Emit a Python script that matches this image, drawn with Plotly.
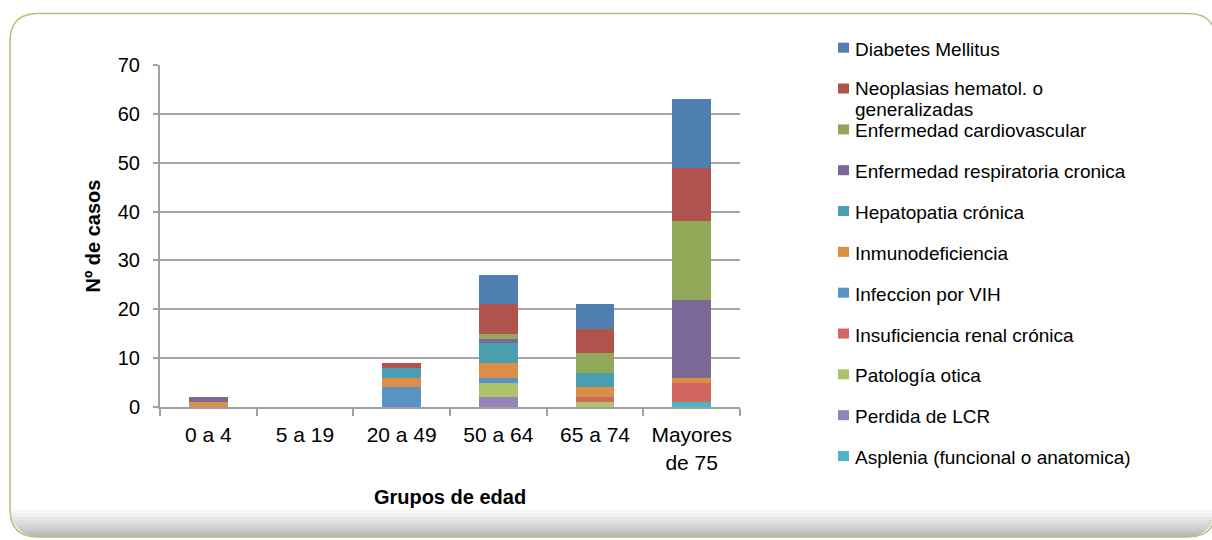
import plotly.graph_objects as go
import numpy as np

# ---------------- data ----------------
categories = ["0 a 4", "5 a 19", "20 a 49", "50 a 64", "65 a 74", "Mayores<br>de 75"]

# stacking order: bottom -> top
asplenia = [0, 0, 0, 0, 0, 1]
perdida_lcr = [0, 0, 0, 2, 0, 0]
patologia_otica = [0, 0, 0, 3, 1, 0]
insuf_renal = [0, 0, 0, 0, 1, 4]
infeccion_vih = [0, 0, 4, 1, 0, 0]
inmunodeficiencia = [1, 0, 2, 3, 2, 1]
hepatopatia = [0, 0, 2, 4, 3, 0]
resp_cronica = [1, 0, 0, 1, 0, 16]
cardiovascular = [0, 0, 0, 1, 4, 16]
neoplasias = [0, 0, 1, 6, 5, 11]
diabetes = [0, 0, 0, 6, 5, 14]

series_names = [
    "Asplenia (funcional o anatomica)",
    "Perdida de LCR",
    "Patología otica",
    "Insuficiencia renal crónica",
    "Infeccion por VIH",
    "Inmunodeficiencia",
    "Hepatopatia crónica",
    "Enfermedad respiratoria cronica",
    "Enfermedad cardiovascular",
    "Neoplasias hematol. o<br>generalizadas",
    "Diabetes Mellitus",
]
series_values = [asplenia, perdida_lcr, patologia_otica, insuf_renal, infeccion_vih,
                 inmunodeficiencia, hepatopatia, resp_cronica, cardiovascular,
                 neoplasias, diabetes]
series_colors = ["#4DB4C8", "#9583BD", "#ABC36B", "#D1675E", "#5B93C7",
                 "#DB8E45", "#4B9FB3", "#7C6897", "#93A95A", "#B0534F", "#4E7FAE"]

y_ticks = [0, 10, 20, 30, 40, 50, 60, 70]

FONT = "Liberation Sans, Arial, sans-serif"

# page geometry (pixels)
W, H = 1212, 540
PL, PR, PT, PB = 160, 740, 65, 406.7


def px2x(px):
    return (px - PL) / (PR - PL)


def py2y(py):
    return (PB - py) / (PB - PT)


fig = go.Figure()
for name, vals, col in zip(series_names, series_values, series_colors):
    fig.add_trace(go.Bar(
        x=categories, y=vals, name=name.replace("<br>", " "),
        marker=dict(color=col, line=dict(width=0)),
        showlegend=False,
    ))

shapes = []
annotations = []

# ------------- background rounded frame -------------
FL, FT, FR, FB, RAD = 10, 13.5, 1216, 536.5, 28


def rr_path(l, t, r, b, rad):
    pts = [
        ("M", l + rad, t), ("L", r - rad, t), ("Q", r, t, r, t + rad),
        ("L", r, b - rad), ("Q", r, b, r - rad, b), ("L", l + rad, b),
        ("Q", l, b, l, b - rad), ("L", l, t + rad), ("Q", l, t, l + rad, t),
    ]
    out = []
    for p in pts:
        cmd = p[0]
        coords = p[1:]
        cs = []
        for i in range(0, len(coords), 2):
            cs.append(f"{px2x(coords[i]):.5f},{py2y(coords[i + 1]):.5f}")
        out.append(cmd + " ".join(cs))
    return " ".join(out) + " Z"


shapes.append(dict(type="path", xref="paper", yref="paper", path=rr_path(FL, FT, FR, FB, RAD),
                   fillcolor="white", line=dict(width=0), layer="below"))


def band_path(h):
    y0 = FB - h
    ys = np.linspace(y0, FB, 24)
    left_pts, right_pts = [], []
    for y in ys:
        dy = max(0.0, y - (FB - RAD))
        dx = RAD - np.sqrt(max(0.0, RAD ** 2 - dy ** 2))
        left_pts.append((FL + dx, y))
        right_pts.append((FR - dx, y))
    pts = left_pts + right_pts[::-1]
    s = "M" + " L".join(f"{px2x(x):.5f},{py2y(y):.5f}" for x, y in pts) + " Z"
    return s


for h in [28, 24, 20, 17, 14, 11, 8, 6, 4, 2]:
    shapes.append(dict(type="path", xref="paper", yref="paper", path=band_path(h),
                       fillcolor="rgba(0,0,0,0.032)", line=dict(width=0), layer="below"))

shapes.append(dict(type="path", xref="paper", yref="paper", path=rr_path(FL, FT, FR, FB, RAD),
                   fillcolor="rgba(0,0,0,0)", line=dict(color="#A8C77E", width=1.5), layer="below"))

# ------------- legend (drawn manually, Diabetes on top) -------------
LEG_SQ_X0, LEG_SQ_X1 = 838, 849
LEG_TXT_X = 853
LEG_Y0, LEG_STEP = 47.7, 40.8
LEG_FS = 19
LINE_H = 21.3
for i, (name, col) in enumerate(zip(series_names[::-1], series_colors[::-1])):
    cy = LEG_Y0 + i * LEG_STEP
    shapes.append(dict(type="rect", xref="paper", yref="paper",
                       x0=px2x(LEG_SQ_X0), x1=px2x(LEG_SQ_X1),
                       y0=py2y(cy - 5), y1=py2y(cy + 5),
                       fillcolor=col, line=dict(width=0)))
    lines = name.split("<br>")
    first = cy + 1.5 - (2 if len(lines) > 1 else 0)
    for j, line in enumerate(lines):
        annotations.append(dict(
            xref="paper", yref="paper", x=px2x(LEG_TXT_X), y=py2y(first + j * LINE_H),
            xanchor="left", yanchor="middle", showarrow=False, text=line,
            font=dict(family=FONT, size=LEG_FS, color="#000000"),
        ))

fig.update_layout(
    width=W, height=H,
    margin=dict(l=PL, r=W - PR, t=PT, b=H - PB, pad=0),
    barmode="stack",
    bargap=0.6,
    paper_bgcolor="white",
    plot_bgcolor="rgba(0,0,0,0)",
    font=dict(family=FONT, size=20, color="#000000"),
    shapes=shapes,
    annotations=annotations,
    showlegend=False,
)

fig.update_xaxes(
    showgrid=False, showline=True, linecolor="#A0A0A0", linewidth=2,
    ticks="outside", ticklen=7, tickwidth=2, tickcolor="#A0A0A0",
    tickson="boundaries", ticklabelstandoff=8,
    tickfont=dict(family=FONT, size=21),
    title=dict(text="<b>Grupos de edad</b>", font=dict(family=FONT, size=20), standoff=17),
)
fig.update_yaxes(
    range=[0, 70], tickvals=y_ticks,
    showgrid=True, gridcolor="#A6A6A6", gridwidth=2,
    showline=True, linecolor="#A0A0A0", linewidth=2,
    ticks="outside", ticklen=5, tickwidth=2, tickcolor="#A0A0A0",
    ticklabelstandoff=9,
    tickfont=dict(family=FONT, size=20),
    zeroline=False,
    title=dict(text="<b>Nº de casos</b>", font=dict(family=FONT, size=20), standoff=12),
)

fig.write_html(
    "out.html",
    config={"displayModeBar": False},
    post_script="document.body.style.margin='0';document.body.style.overflow='hidden';",
)
